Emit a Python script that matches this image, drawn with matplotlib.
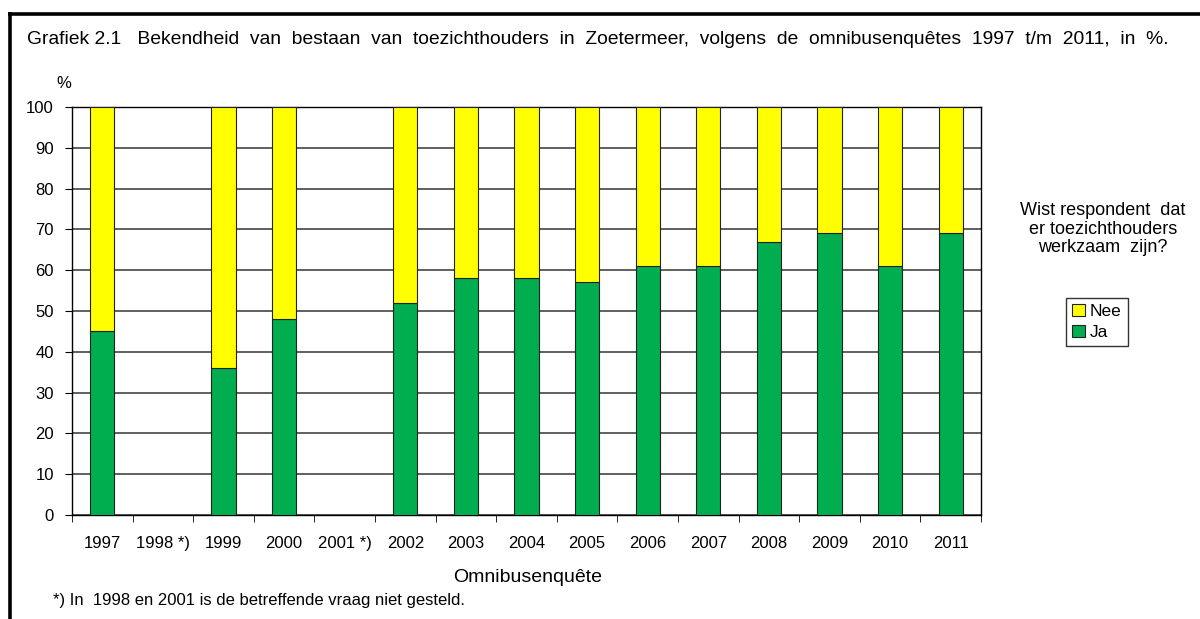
import matplotlib.pyplot as plt
import numpy as np
from matplotlib.lines import Line2D

# survey years; 1998 and 2001 have no data
years = ['1997', '1998 *)', '1999', '2000', '2001 *)', '2002', '2003', '2004',
         '2005', '2006', '2007', '2008', '2009', '2010', '2011']
ja = [45, np.nan, 36, 48, np.nan, 52, 58, 58, 57, 61, 61, 67, 69, 61, 69]
nee = [55, np.nan, 64, 52, np.nan, 48, 42, 42, 43, 39, 39, 33, 31, 39, 31]

green = '#00AE4F'
yellow = '#FFFF00'

plt.rcParams['font.family'] = ['Liberation Sans', 'DejaVu Sans']

fig = plt.figure(figsize=(12, 6.19), dpi=100)
W, H = 1200, 619
ax = fig.add_axes([72 / W, 1 - 515 / H, (981 - 72) / W, (515 - 107) / H])

x = np.arange(len(years))
ja_arr = np.array(ja, dtype=float)
nee_arr = np.array(nee, dtype=float)
ax.bar(x, ja_arr, width=0.4, color=green, edgecolor='#222222', linewidth=0.8,
       label='Ja', zorder=3)
ax.bar(x, nee_arr, width=0.4, bottom=ja_arr, color=yellow, edgecolor='#222222',
       linewidth=0.8, label='Nee', zorder=3)

ax.set_xlim(-0.5, len(years) - 0.5)
ax.set_ylim(0, 100)
ax.set_yticks(range(0, 101, 10))
ax.yaxis.grid(True, color='#444444', linewidth=1.2, zorder=0)
ax.set_xticks(x)
ax.set_xticklabels(years, fontsize=12)
ax.tick_params(axis='x', length=0, pad=15)
ax.set_xticks(np.arange(-0.5, len(years), 1), minor=True)
ax.tick_params(axis='x', which='minor', length=5, direction='out', color='black')
ax.tick_params(axis='y', labelsize=12, length=5, direction='out', pad=8)
for s in ax.spines.values():
    s.set_color('black')
    s.set_linewidth(1.0)

title = ('Grafiek 2.1   Bekendheid  van  bestaan  van  toezichthouders  in  Zoetermeer,  '
         'volgens  de  omnibusenquêtes  1997  t/m  2011,  in  %.')
fig.text(27 / W, 1 - 40 / H, title, fontsize=13.9, va='center', ha='left')
fig.text(64 / W, 1 - 83 / H, '%', fontsize=12, va='center', ha='center')
fig.text(528 / W, 1 - 577 / H, 'Omnibusenquête', fontsize=14, va='center', ha='center')
fig.text(53 / W, 1 - 600 / H, '*) In  1998 en 2001 is de betreffende vraag niet gesteld.',
         fontsize=12, va='center', ha='left')
fig.text(1103 / W, 1 - 229 / H, 'Wist respondent  dat\ner toezichthouders\nwerkzaam  zijn?',
         fontsize=13, va='center', ha='center', linespacing=1.15)

handles, labels = ax.get_legend_handles_labels()
leg = fig.legend(handles[::-1], labels[::-1], loc='center', bbox_to_anchor=(1097 / W, 1 - 322 / H),
                 fontsize=12.5, frameon=True, fancybox=False, edgecolor='black',
                 handlelength=0.7, handleheight=0.7, handletextpad=0.3,
                 borderpad=0.35, labelspacing=0.35)
leg.get_frame().set_linewidth(1.0)

# outer frame of the chart
fig.add_artist(Line2D([10 / W, 10 / W], [0, 1 - 12.3 / H], color='black', linewidth=2.6,
                      solid_capstyle='butt'))
fig.add_artist(Line2D([8.3 / W, 1], [1 - 13.5 / H, 1 - 13.5 / H], color='black', linewidth=2.6,
                      solid_capstyle='butt'))

fig.savefig('out.png', dpi=100)
